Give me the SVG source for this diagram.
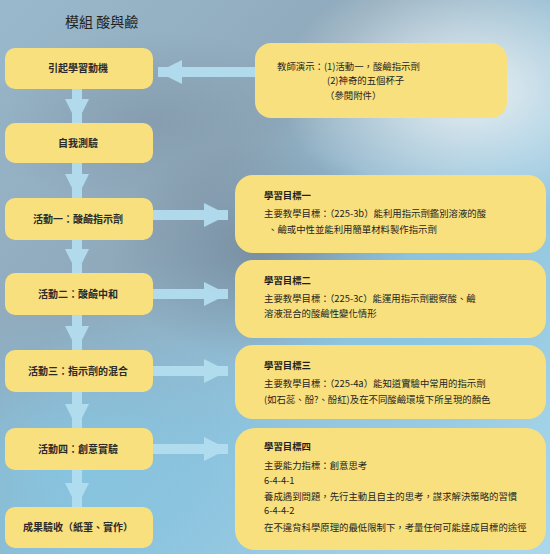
<svg xmlns="http://www.w3.org/2000/svg" width="550" height="554" viewBox="0 0 550 554">
<defs>
<linearGradient id="bg" x1="0" y1="0" x2="1" y2="1">
<stop offset="0" stop-color="#9ab9cc"/>
<stop offset="0.35" stop-color="#8fa9bb"/>
<stop offset="0.6" stop-color="#8fc2dc"/>
<stop offset="1" stop-color="#a9d8ec"/>
</linearGradient>
<radialGradient id="glow" cx="0.5" cy="0.5" r="0.5">
<stop offset="0" stop-color="#eef3f5" stop-opacity="0.95"/>
<stop offset="1" stop-color="#eef3f5" stop-opacity="0"/>
</radialGradient>
<radialGradient id="dark" cx="0.5" cy="0.5" r="0.5">
<stop offset="0" stop-color="#6f7f90" stop-opacity="0.7"/>
<stop offset="1" stop-color="#6f7f90" stop-opacity="0"/>
</radialGradient>
<radialGradient id="lb" cx="0.5" cy="0.5" r="0.5">
<stop offset="0" stop-color="#86c6e2" stop-opacity="0.9"/>
<stop offset="1" stop-color="#86c6e2" stop-opacity="0"/>
</radialGradient>
<marker id="ah" viewBox="0 0 10 10" refX="10" refY="5" markerWidth="2.6" markerHeight="2.4" orient="auto" markerUnits="strokeWidth">
<path d="M0,0 L10,5 L0,10 Z" fill="#b3def0"/>
</marker>
<marker id="ahl" viewBox="0 0 10 10" refX="10" refY="5" markerWidth="3.6" markerHeight="2.4" orient="auto" markerUnits="strokeWidth">
<path d="M0,0 L10,5 L0,10 Z" fill="#b3def0"/>
</marker>
</defs>
<style>
.box{fill:#f8e07e;}
.lbl{font-family:"Noto Sans CJK TC","Noto Sans CJK SC",sans-serif;font-size:10px;font-weight:bold;fill:#2a2a2a;text-anchor:middle;}
.txt{font-family:"Noto Sans CJK TC","Noto Sans CJK SC",sans-serif;font-size:9.4px;fill:#1e1e1e;}
.hd{font-weight:bold;}
.title{font-family:"Noto Sans CJK TC","Noto Sans CJK SC",sans-serif;font-size:14px;fill:#222;}
.arr{stroke:#b3def0;stroke-width:10;fill:none;marker-end:url(#ah);opacity:0.95;}
.arrh{stroke:#b3def0;stroke-width:10;fill:none;marker-end:url(#ahl);opacity:0.95;}
</style>
<rect x="0" y="0" width="550" height="554" fill="url(#bg)"/>
<ellipse cx="470" cy="90" rx="190" ry="130" fill="url(#glow)"/>
<ellipse cx="260" cy="250" rx="150" ry="110" fill="url(#dark)"/>
<ellipse cx="150" cy="120" rx="170" ry="90" fill="url(#dark)" opacity="0.5"/>
<ellipse cx="80" cy="470" rx="220" ry="160" fill="url(#lb)"/>
<ellipse cx="420" cy="330" rx="140" ry="120" fill="url(#lb)" opacity="0.7"/>

<text class="title" x="65" y="27">模組 酸與鹼</text>

<g id="connectors">
<line class="arr" x1="77" y1="88" x2="77" y2="123"/>
<line class="arr" x1="77" y1="163" x2="77" y2="198"/>
<line class="arr" x1="77" y1="240" x2="77" y2="273"/>
<line class="arr" x1="77" y1="315" x2="77" y2="350"/>
<line class="arr" x1="77" y1="392" x2="77" y2="428"/>
<line class="arr" x1="77" y1="470" x2="77" y2="507"/>
<line class="arrh" x1="256" y1="72" x2="158" y2="72"/>
<line class="arrh" x1="150" y1="215" x2="228" y2="215"/>
<line class="arrh" x1="150" y1="294" x2="228" y2="294"/>
<line class="arrh" x1="150" y1="371" x2="228" y2="371"/>
<line class="arrh" x1="150" y1="449" x2="228" y2="449"/>
</g>

<g id="n1"><rect class="box" x="5" y="48" width="148" height="41" rx="10"/><text class="lbl" x="78" y="72">引起學習動機</text></g>
<g id="n2"><rect class="box" x="5" y="123" width="148" height="40" rx="10"/><text class="lbl" x="78" y="147">自我測驗</text></g>
<g id="n3"><rect class="box" x="5" y="198" width="148" height="42" rx="10"/><text class="lbl" x="78" y="223">活動一：酸鹼指示劑</text></g>
<g id="n4"><rect class="box" x="5" y="273" width="148" height="42" rx="10"/><text class="lbl" x="78" y="298">活動二：酸鹼中和</text></g>
<g id="n5"><rect class="box" x="5" y="350" width="148" height="42" rx="10"/><text class="lbl" x="78" y="375">活動三：指示劑的混合</text></g>
<g id="n6"><rect class="box" x="5" y="428" width="148" height="42" rx="10"/><text class="lbl" x="78" y="453">活動四：創意實驗</text></g>
<g id="n7"><rect class="box" x="5" y="507" width="148" height="41" rx="10"/><text class="lbl" x="78" y="531">成果驗收（紙筆、實作）</text></g>

<g id="r0"><rect class="box" x="255" y="43" width="252" height="75" rx="16"/>
<text class="txt" x="277" y="70">教師演示：(1)活動一，酸鹼指示劑</text>
<text class="txt" x="327" y="84">(2)神奇的五個杯子</text>
<text class="txt" x="325" y="99">（參閱附件）</text></g>

<g id="r1"><rect class="box" x="235" y="175" width="311" height="78" rx="18"/>
<text class="txt hd" x="264" y="199">學習目標一</text>
<text class="txt" x="264" y="217">主要教學目標：（225-3b）能利用指示劑鑑別溶液的酸</text>
<text class="txt" x="268" y="233">、鹼或中性並能利用簡單材料製作指示劑</text></g>

<g id="r2"><rect class="box" x="235" y="260" width="311" height="78" rx="18"/>
<text class="txt hd" x="264" y="284">學習目標二</text>
<text class="txt" x="264" y="302">主要教學目標：（225-3c）能運用指示劑觀察酸、鹼</text>
<text class="txt" x="264" y="317">溶液混合的酸鹼性變化情形</text></g>

<g id="r3"><rect class="box" x="235" y="345" width="311" height="74" rx="18"/>
<text class="txt hd" x="264" y="369">學習目標三</text>
<text class="txt" x="264" y="387">主要教學目標：（225-4a）能知道實驗中常用的指示劑</text>
<text class="txt" x="264" y="403">(如石蕊、酚?、酚紅)及在不同酸鹼環境下所呈現的顏色</text></g>

<g id="r4"><rect class="box" x="235" y="428" width="311" height="122" rx="20"/>
<text class="txt hd" x="264" y="450">學習目標四</text>
<text class="txt" x="264" y="469">主要能力指標：創意思考</text>
<text class="txt" x="264" y="484">6-4-4-1</text>
<text class="txt" x="264" y="500">養成遇到問題，先行主動且自主的思考，謀求解決策略的習慣</text>
<text class="txt" x="264" y="514">6-4-4-2</text>
<text class="txt" x="264" y="531">在不違背科學原理的最低限制下，考量任何可能達成目標的途徑</text></g>
</svg>
